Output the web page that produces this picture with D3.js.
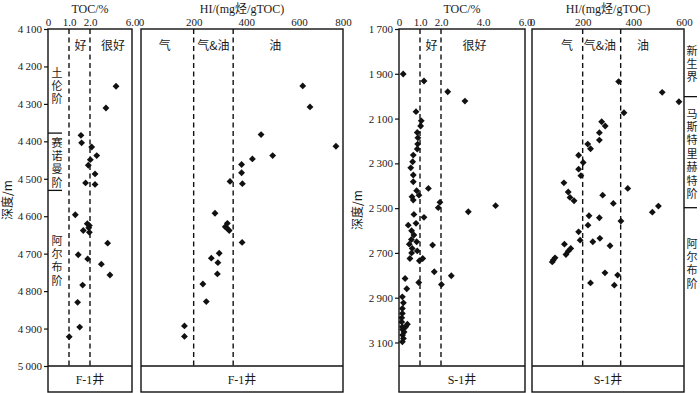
<!DOCTYPE html>
<html>
<head>
<meta charset="utf-8">
<script src="https://cdn.jsdelivr.net/npm/d3@7"></script>
<style>
    body { margin: 0; background: #fff; }
    text { fill: #1a1a1a; }
</style>
</head>
<body>
<div id="chart"></div>
<script>
// F-1 well data (depth in m)
const f1TocDepth = [4253, 4311, 4384, 4404, 4415, 4438, 4449, 4464, 4487, 4511, 4515,
    4596, 4620, 4625, 4631, 4638, 4643, 4672, 4703, 4714, 4728, 4757, 4784, 4830, 4896, 4922];
const f1Toc = [4.48, 3.52, 1.57, 1.60, 2.16, 2.64, 2.03, 1.92, 2.48, 1.79, 2.48,
    1.30, 1.87, 1.97, 1.94, 1.68, 1.97, 3.68, 1.44, 1.89, 3.08, 3.90, 1.65, 1.41, 1.51, 1.01];
const f1HiDepth = [4252, 4308, 4382, 4413, 4438, 4447, 4462, 4484, 4507, 4513,
    4592, 4619, 4628, 4631, 4638, 4670, 4699, 4712, 4724, 4754, 4781, 4828, 4893, 4921];
const f1Hi = [617, 650, 456, 768, 500, 423, 382, 382, 338, 385,
    281, 328, 320, 325, 335, 384, 297, 267, 292, 290, 235, 248, 165, 165];

// S-1 well data
const s1TocDepth = [1901, 1932, 1980, 2022, 2069, 2110, 2133, 2162, 2186, 2214, 2236, 2263, 2293,
    2320, 2352, 2382, 2412, 2422, 2442, 2449, 2464, 2474, 2498, 2489, 2516, 2528, 2541, 2568,
    2576, 2601, 2620, 2640, 2650, 2661, 2665, 2680, 2700, 2691, 2725, 2725, 2735, 2784, 2802,
    2814, 2832, 2841, 2860, 2896, 2923, 2948, 2970, 2990, 3008, 3018, 3030, 3042, 3053, 3067,
    3082, 3097, 3030];
const s1Toc = [0.20, 1.19, 2.32, 3.14, 0.81, 1.06, 1.03, 0.87, 0.90, 0.89, 0.87, 0.68, 0.65,
    0.56, 0.68, 0.68, 1.40, 0.84, 0.95, 0.62, 0.68, 1.95, 1.87, 4.60, 3.30, 0.71, 1.19, 0.81,
    0.44, 0.60, 0.71, 0.59, 0.84, 0.49, 1.60, 0.63, 0.60, 0.87, 0.52, 1.13, 0.97, 1.68, 2.49,
    0.29, 0.94, 2.02, 0.37, 0.16, 0.21, 0.16, 0.16, 0.13, 0.13, 0.40, 0.32, 0.17, 0.24, 0.17,
    0.21, 0.16, 0.16];
const s1HiDepth = [1935, 1983, 2025, 2074, 2114, 2133, 2163, 2196, 2214, 2235, 2264, 2296, 2326,
    2355, 2387, 2412, 2428, 2442, 2452, 2467, 2479, 2491, 2518, 2534, 2543, 2558, 2576, 2606,
    2643, 2650, 2635, 2661, 2668, 2680, 2692, 2707, 2722, 2732, 2740, 2789, 2799, 2834, 2844];
const s1Hi = [342, 514, 580, 363, 275, 289, 266, 266, 220, 231, 184, 202, 184,
    193, 126, 378, 143, 279, 150, 166, 321, 499, 475, 225, 266, 351, 221, 184,
    190, 240, 268, 128, 308, 153, 143, 134, 91, 84, 80, 288, 338, 231, 325];

// axis ticks
const f1DepthTicks = [4100, 4200, 4300, 4400, 4500, 4600, 4700, 4800, 4900, 5000];
const s1DepthTicks = [1700, 1900, 2100, 2300, 2500, 2700, 2900, 3100];
const f1TocTicks = [0, 1, 2, 6];
const s1TocTicks = [0, 1, 2, 4, 6];
const f1HiTicks = [0, 200, 400, 600, 800];
const s1HiTicks = [0, 200, 400, 600];

// stages: name, bottom depth
const f1Stages = ['土伦阶', '赛诺曼阶', '阿尔布阶'];
const f1StageBase = [4378, 4531, 5000];
const s1Stages = ['新生界', '马斯特里赫特阶', '阿尔布阶'];
const s1StageBase = [2002, 2498, 3205];

const SERIF = '"Liberation Serif", "Noto Sans CJK SC", serif';
const CJK = '"Noto Sans CJK SC", "Liberation Serif", sans-serif';

const width = 700, height = 393;
const plotTop = 29, plotBottom = 366, boxBottom = 392;

const svg = d3.select('#chart').append('svg')
    .attr('width', width)
    .attr('height', height);

const yF1 = d3.scaleLinear().domain([4100, 5000]).range([plotTop, plotBottom]);
const yS1 = d3.scaleLinear().domain([1700, 3205]).range([plotTop, plotBottom]);

const depthFormat = d => d3.format(',')(d).replace(',', '\u2009');
const tocFormat = d => d === 0 ? '0' : d.toFixed(1);

function drawPanel(opt) {
    const x = d3.scaleLinear().domain(opt.domain).range(opt.range);
    const g = svg.append('g');
    const x0 = opt.range[0], x1 = opt.range[opt.range.length - 1];

    // top axis labels
    const ax = g.append('g')
        .attr('transform', `translate(0,${plotTop})`)
        .call(d3.axisTop(x).tickValues(opt.ticks).tickSize(0).tickPadding(3).tickFormat(opt.format));
    ax.select('.domain').remove();
    ax.selectAll('text').attr('font-size', 11).attr('font-family', SERIF);

    // title
    g.append('text')
        .attr('x', (x0 + x1) / 2)
        .attr('y', 13)
        .attr('text-anchor', 'middle')
        .attr('font-size', 12)
        .attr('font-family', SERIF)
        .text(opt.title);

    // threshold dashed lines
    opt.dashes.forEach(v => {
        g.append('line')
            .attr('x1', x(v)).attr('x2', x(v))
            .attr('y1', plotTop).attr('y2', plotBottom)
            .attr('stroke', '#111')
            .attr('stroke-width', 1.4)
            .attr('stroke-dasharray', '5,3.5');
    });

    // zone labels
    opt.zones.forEach(([label, v]) => {
        g.append('text')
            .attr('x', x(v))
            .attr('y', 50)
            .attr('text-anchor', 'middle')
            .attr('font-size', 12)
            .attr('font-family', CJK)
            .text(label);
    });

    // points
    g.selectAll('.pt')
        .data(opt.values.map((v, i) => [v, opt.depths[i]]))
        .enter()
        .append('path')
        .attr('class', 'pt')
        .attr('d', d3.symbol(d3.symbolDiamond2, 30))
        .attr('transform', d => `translate(${x(d[0])},${opt.y(d[1])})`)
        .attr('fill', '#111');

    // frame
    g.append('rect')
        .attr('x', x0).attr('y', plotTop)
        .attr('width', x1 - x0).attr('height', boxBottom - plotTop)
        .attr('fill', 'none')
        .attr('stroke', '#111')
        .attr('stroke-width', 1.4);
    g.append('line')
        .attr('x1', x0).attr('x2', x1)
        .attr('y1', plotBottom).attr('y2', plotBottom)
        .attr('stroke', '#111')
        .attr('stroke-width', 1.4);

    // well name
    g.append('text')
        .attr('x', (x0 + x1) / 2)
        .attr('y', 384)
        .attr('text-anchor', 'middle')
        .attr('font-size', 12)
        .attr('font-family', SERIF)
        .text(opt.well);

    return x;
}

function drawDepthAxis(y, ticks, x0, labelX, labelY) {
    const ay = svg.append('g')
        .attr('transform', `translate(${x0},0)`)
        .call(d3.axisLeft(y).tickValues(ticks).tickSize(4).tickPadding(2).tickFormat(depthFormat));
    ay.select('.domain').remove();
    ay.selectAll('line').attr('stroke', '#111').attr('stroke-width', 1.2);
    ay.selectAll('text').attr('font-size', 11).attr('font-family', SERIF);

    svg.append('text')
        .attr('transform', `translate(${labelX},${labelY}) rotate(-90)`)
        .attr('text-anchor', 'middle')
        .attr('font-size', 12)
        .attr('font-family', CJK)
        .text('深度/m');
}

// stage names written vertically; labelTop = y of the first character
function drawStages(stages, bases, labelTop, y, xLine0, xLine1, textX) {
    const step = 13.4;
    stages.forEach((name, i) => {
        Array.from(name).forEach((c, k) => {
            svg.append('text')
                .attr('x', textX)
                .attr('y', labelTop[i] + k * step + 4.5)
                .attr('text-anchor', 'middle')
                .attr('font-size', 11)
                .attr('font-family', CJK)
                .text(c);
        });
        if (i < stages.length - 1) {
            svg.append('line')
                .attr('x1', xLine0).attr('x2', xLine1)
                .attr('y1', y(bases[i])).attr('y2', y(bases[i]))
                .attr('stroke', '#111')
                .attr('stroke-width', 1.3);
        }
    });
}

// F-1 well
drawPanel({
    domain: [0, 2, 6], range: [48, 90, 132], ticks: f1TocTicks, format: tocFormat,
    title: 'TOC/%', dashes: [1, 2], zones: [['好', 1.55], ['很好', 4.2]],
    values: f1Toc, depths: f1TocDepth, y: yF1, well: 'F-1井'
});
drawPanel({
    domain: [0, 600, 800], range: [141, 299, 343], ticks: f1HiTicks, format: d3.format('d'),
    title: 'HI/(mg烃/gTOC)', dashes: [200, 350], zones: [['气', 90], ['气&油', 275], ['油', 510]],
    values: f1Hi, depths: f1HiDepth, y: yF1, well: 'F-1井'
});
drawDepthAxis(yF1, f1DepthTicks, 48, 12, 200);
drawStages(f1Stages, f1StageBase, [72, 142, 240], yF1, 48, 62, 57);

// S-1 well
drawPanel({
    domain: [0, 6], range: [399, 525], ticks: s1TocTicks, format: tocFormat,
    title: 'TOC/%', dashes: [1, 2], zones: [['好', 1.55], ['很好', 3.6]],
    values: s1Toc, depths: s1TocDepth, y: yS1, well: 'S-1井'
});
drawPanel({
    domain: [0, 600], range: [532, 684], ticks: s1HiTicks, format: d3.format('d'),
    title: 'HI/(mg烃/gTOC)', dashes: [200, 350], zones: [['气', 138], ['气&油', 268], ['油', 438]],
    values: s1Hi, depths: s1HiDepth, y: yS1, well: 'S-1井'
});
drawDepthAxis(yS1, s1DepthTicks, 399, 362, 210);
drawStages(s1Stages, s1StageBase, [50, 113, 243], yS1, 684, 697, 692);
</script>
</body>
</html>
